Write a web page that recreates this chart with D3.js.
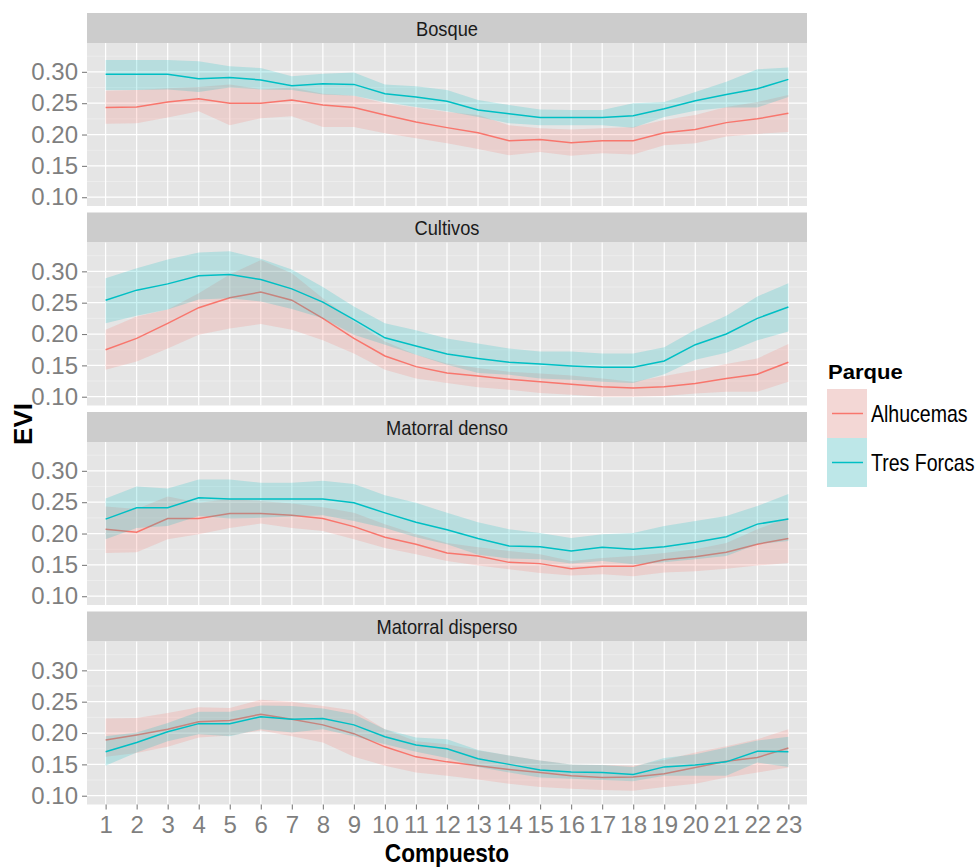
<!DOCTYPE html>
<html>
<head>
<meta charset="utf-8">
<script src="https://cdn.jsdelivr.net/npm/d3@7"></script>
<style>
  body { margin: 0; background: #fff; }
  svg { display: block; font-family: "Liberation Sans", Arial, Helvetica, sans-serif; }
</style>
</head>
<body>
<svg id="chart" width="977" height="868"></svg>
<script>
// Composite index (1..23) and land-cover facets
const compuestos = d3.range(1, 24);
const coberturas = ["Bosque", "Cultivos", "Matorral denso", "Matorral disperso"];
const parques = ["Alhucemas", "Tres Forcas"];
const yTicks = [0.10, 0.15, 0.20, 0.25, 0.30];

// Mean EVI and band limits, Alhucemas
const alhBosque      = [0.243,0.244,0.252,0.257,0.250,0.250,0.255,0.247,0.243,0.231,0.220,0.211,0.203,0.190,0.192,0.187,0.190,0.190,0.203,0.208,0.219,0.225,0.234];
const alhBosqueLo    = [0.217,0.218,0.227,0.237,0.215,0.226,0.229,0.212,0.212,0.202,0.194,0.186,0.177,0.167,0.172,0.166,0.170,0.168,0.183,0.186,0.197,0.201,0.204];
const alhBosqueHi    = [0.270,0.271,0.274,0.276,0.280,0.272,0.275,0.265,0.262,0.250,0.243,0.236,0.231,0.215,0.210,0.208,0.210,0.212,0.223,0.231,0.244,0.252,0.263];
const alhCultivos    = [0.175,0.193,0.217,0.242,0.258,0.267,0.254,0.225,0.193,0.165,0.148,0.138,0.133,0.128,0.124,0.120,0.116,0.114,0.116,0.121,0.129,0.136,0.155];
const alhCultivosLo  = [0.143,0.156,0.177,0.199,0.209,0.216,0.207,0.190,0.169,0.143,0.129,0.122,0.115,0.111,0.106,0.103,0.100,0.100,0.101,0.105,0.108,0.108,0.124];
const alhCultivosHi  = [0.207,0.228,0.239,0.265,0.295,0.318,0.297,0.257,0.220,0.188,0.167,0.153,0.146,0.140,0.137,0.134,0.129,0.124,0.133,0.142,0.152,0.161,0.184];
const alhDenso       = [0.207,0.202,0.224,0.224,0.232,0.232,0.229,0.224,0.211,0.194,0.183,0.169,0.164,0.154,0.152,0.144,0.148,0.148,0.158,0.163,0.170,0.183,0.192];
const alhDensoLo     = [0.169,0.170,0.191,0.199,0.209,0.216,0.209,0.204,0.191,0.177,0.167,0.156,0.149,0.143,0.137,0.133,0.135,0.132,0.138,0.140,0.144,0.149,0.153];
const alhDensoHi     = [0.243,0.239,0.259,0.249,0.255,0.252,0.248,0.242,0.233,0.215,0.199,0.185,0.178,0.172,0.167,0.156,0.161,0.164,0.169,0.175,0.185,0.207,0.225];
const alhDisperso    = [0.189,0.197,0.206,0.218,0.220,0.230,0.222,0.213,0.199,0.178,0.162,0.154,0.148,0.142,0.137,0.132,0.129,0.130,0.135,0.145,0.155,0.161,0.176];
const alhDispersoLo  = [0.162,0.168,0.178,0.193,0.196,0.204,0.195,0.185,0.162,0.148,0.137,0.132,0.126,0.119,0.114,0.111,0.109,0.108,0.114,0.119,0.129,0.137,0.145];
const alhDispersoHi  = [0.223,0.224,0.232,0.241,0.240,0.253,0.250,0.243,0.236,0.206,0.187,0.182,0.172,0.164,0.156,0.150,0.149,0.148,0.157,0.169,0.179,0.190,0.206];

// Mean EVI and band limits, Tres Forcas
const tfBosque       = [0.296,0.296,0.296,0.289,0.291,0.287,0.278,0.281,0.280,0.265,0.260,0.253,0.239,0.233,0.227,0.227,0.227,0.230,0.241,0.254,0.264,0.273,0.288];
const tfBosqueLo     = [0.271,0.271,0.272,0.268,0.275,0.272,0.271,0.264,0.262,0.252,0.244,0.237,0.228,0.218,0.215,0.215,0.215,0.211,0.228,0.238,0.243,0.243,0.260];
const tfBosqueHi     = [0.319,0.319,0.319,0.317,0.309,0.306,0.293,0.297,0.299,0.280,0.277,0.271,0.255,0.247,0.240,0.239,0.239,0.250,0.252,0.268,0.284,0.304,0.307];
const tfCultivos     = [0.254,0.270,0.280,0.293,0.295,0.287,0.272,0.251,0.223,0.194,0.181,0.168,0.161,0.155,0.152,0.149,0.147,0.147,0.157,0.183,0.200,0.225,0.243];
const tfCultivosLo   = [0.217,0.229,0.239,0.255,0.257,0.252,0.240,0.225,0.199,0.183,0.167,0.151,0.138,0.135,0.129,0.127,0.124,0.122,0.136,0.159,0.170,0.190,0.204];
const tfCultivosHi   = [0.289,0.305,0.319,0.330,0.332,0.320,0.303,0.275,0.244,0.217,0.206,0.193,0.185,0.177,0.172,0.172,0.169,0.169,0.179,0.207,0.229,0.260,0.281];
const tfDenso        = [0.223,0.241,0.241,0.257,0.255,0.255,0.255,0.255,0.249,0.233,0.218,0.206,0.192,0.180,0.179,0.172,0.178,0.175,0.179,0.186,0.195,0.215,0.223];
const tfDensoLo      = [0.191,0.209,0.212,0.228,0.224,0.225,0.227,0.229,0.220,0.209,0.194,0.183,0.166,0.160,0.159,0.152,0.156,0.151,0.154,0.159,0.164,0.183,0.188];
const tfDensoHi      = [0.256,0.275,0.272,0.286,0.286,0.281,0.281,0.284,0.279,0.261,0.249,0.233,0.218,0.207,0.201,0.193,0.199,0.201,0.212,0.220,0.228,0.244,0.263];
const tfDisperso     = [0.170,0.185,0.202,0.215,0.215,0.226,0.222,0.223,0.213,0.194,0.181,0.175,0.159,0.150,0.141,0.138,0.137,0.134,0.146,0.149,0.154,0.171,0.170];
const tfDispersoLo   = [0.148,0.169,0.187,0.198,0.195,0.206,0.201,0.206,0.195,0.182,0.170,0.160,0.146,0.137,0.129,0.127,0.125,0.123,0.132,0.132,0.132,0.153,0.146];
const tfDispersoHi   = [0.195,0.201,0.216,0.234,0.234,0.244,0.243,0.239,0.230,0.206,0.193,0.190,0.173,0.164,0.156,0.150,0.149,0.146,0.160,0.166,0.177,0.188,0.194];

const colores = { "Alhucemas": "#F8766D", "Tres Forcas": "#00BFC4" };

// Series per facet: [mean, low, high] for each park
const series = {
  "Bosque":            { "Alhucemas": [alhBosque, alhBosqueLo, alhBosqueHi],       "Tres Forcas": [tfBosque, tfBosqueLo, tfBosqueHi] },
  "Cultivos":          { "Alhucemas": [alhCultivos, alhCultivosLo, alhCultivosHi], "Tres Forcas": [tfCultivos, tfCultivosLo, tfCultivosHi] },
  "Matorral denso":    { "Alhucemas": [alhDenso, alhDensoLo, alhDensoHi],          "Tres Forcas": [tfDenso, tfDensoLo, tfDensoHi] },
  "Matorral disperso": { "Alhucemas": [alhDisperso, alhDispersoLo, alhDispersoHi], "Tres Forcas": [tfDisperso, tfDispersoLo, tfDispersoHi] }
};

const svg = d3.select("#chart");
const FONT = '"Liberation Sans", Arial, Helvetica, sans-serif';

const plotLeft = 87, plotRight = 807;
const stripTop0 = 13, stripH = 30, panelH = 163, pitch = 199.5;

const x = d3.scalePoint().domain(compuestos).range([plotLeft, plotRight]).padding(0.6);

// Text with optional horizontal condensing
function label(parent, px, py, s, o) {
  const g = parent.append("g")
    .attr("transform", `translate(${px},${py}) rotate(${o.rotate || 0}) scale(${o.sx || 1},1)`);
  g.append("text")
    .attr("text-anchor", o.anchor || "start")
    .style("font-family", FONT)
    .style("font-size", o.size + "px")
    .style("font-weight", o.weight || "normal")
    .attr("fill", o.fill || "#000")
    .text(s);
  return g;
}

coberturas.forEach((cob, i) => {
  const sTop = stripTop0 + i * pitch;
  const pTop = sTop + stripH;
  const pBot = pTop + panelH;
  const y = d3.scaleLinear().domain([0.086, 0.346]).range([pBot, pTop]);
  const g = svg.append("g");

  // strip
  g.append("rect").attr("x", plotLeft).attr("y", sTop).attr("width", plotRight - plotLeft).attr("height", stripH).attr("fill", "#CCCCCC");
  label(g, (plotLeft + plotRight) / 2, sTop + stripH / 2 + 7.5, cob, { size: 21, anchor: "middle", sx: 0.87, fill: "#1a1a1a" });

  // panel background
  g.append("rect").attr("x", plotLeft).attr("y", pTop).attr("width", plotRight - plotLeft).attr("height", panelH).attr("fill", "#E5E5E5");

  // minor grid
  const minor = d3.range(0.125, 0.35, 0.05);
  g.selectAll(".minor").data(minor).join("line")
    .attr("x1", plotLeft).attr("x2", plotRight)
    .attr("y1", d => y(d)).attr("y2", d => y(d))
    .attr("stroke", "#F2F2F2").attr("stroke-width", 0.6);
  // major grid
  g.selectAll(".hmaj").data(yTicks).join("line")
    .attr("x1", plotLeft).attr("x2", plotRight)
    .attr("y1", d => y(d)).attr("y2", d => y(d))
    .attr("stroke", "#FFFFFF").attr("stroke-width", 1.2);
  g.selectAll(".vmaj").data(compuestos).join("line")
    .attr("x1", d => x(d)).attr("x2", d => x(d))
    .attr("y1", pTop).attr("y2", pBot)
    .attr("stroke", "#FFFFFF").attr("stroke-width", 1.2);

  // ribbons and lines, one park after another
  parques.forEach(p => {
    const [m, lo, hi] = series[cob][p];
    const pts = compuestos.map((c, j) => ({ c, m: m[j], lo: lo[j], hi: hi[j] }));
    g.append("path").datum(pts)
      .attr("d", d3.area().x(d => x(d.c)).y0(d => y(d.lo)).y1(d => y(d.hi)))
      .attr("fill", colores[p]).attr("fill-opacity", 0.2);
    g.append("path").datum(pts)
      .attr("d", d3.line().x(d => x(d.c)).y(d => y(d.m)))
      .attr("fill", "none").attr("stroke", colores[p]).attr("stroke-width", 1.5);
  });

  // y axis
  const ya = g.append("g").attr("transform", `translate(${plotLeft},0)`)
    .call(d3.axisLeft(y).tickValues(yTicks).tickFormat(d3.format(".2f")).tickSize(5).tickPadding(4));
  ya.select(".domain").remove();
  ya.selectAll(".tick line").attr("stroke", "#7F7F7F").attr("stroke-width", 1.1);
  ya.selectAll(".tick text").attr("fill", "#7F7F7F").style("font-size", "24px").style("font-family", FONT);

  // x axis on the last facet only
  if (i === coberturas.length - 1) {
    const xa = g.append("g").attr("transform", `translate(0,${pBot})`)
      .call(d3.axisBottom(x).tickSize(5).tickPadding(6));
    xa.select(".domain").remove();
    xa.selectAll(".tick line").attr("stroke", "#7F7F7F").attr("stroke-width", 1.1);
    xa.selectAll(".tick text").attr("fill", "#7F7F7F").style("font-size", "24px").style("font-family", FONT);
  }
});

// axis titles
label(svg, (plotLeft + plotRight) / 2, 862, "Compuesto", { size: 26, weight: "bold", anchor: "middle", sx: 0.87 });
label(svg, 32, 424, "EVI", { size: 26, weight: "bold", anchor: "middle", rotate: -90 });

// legend
const lg = svg.append("g");
label(lg, 828, 379, "Parque", { size: 21, weight: "bold", sx: 1.05 });
parques.forEach((p, k) => {
  const ky = 389 + k * 49;
  lg.append("rect").attr("x", 827).attr("y", ky).attr("width", 40).attr("height", 49).attr("fill", "#F2F2F2");
  lg.append("rect").attr("x", 827).attr("y", ky).attr("width", 40).attr("height", 49).attr("fill", colores[p]).attr("fill-opacity", 0.22);
  lg.append("line").attr("x1", 832).attr("x2", 863).attr("y1", ky + 24.5).attr("y2", ky + 24.5)
    .attr("stroke", colores[p]).attr("stroke-width", 1.5);
  label(lg, 871, ky + 33, p, { size: 23, sx: 0.85 });
});
</script>
</body>
</html>
